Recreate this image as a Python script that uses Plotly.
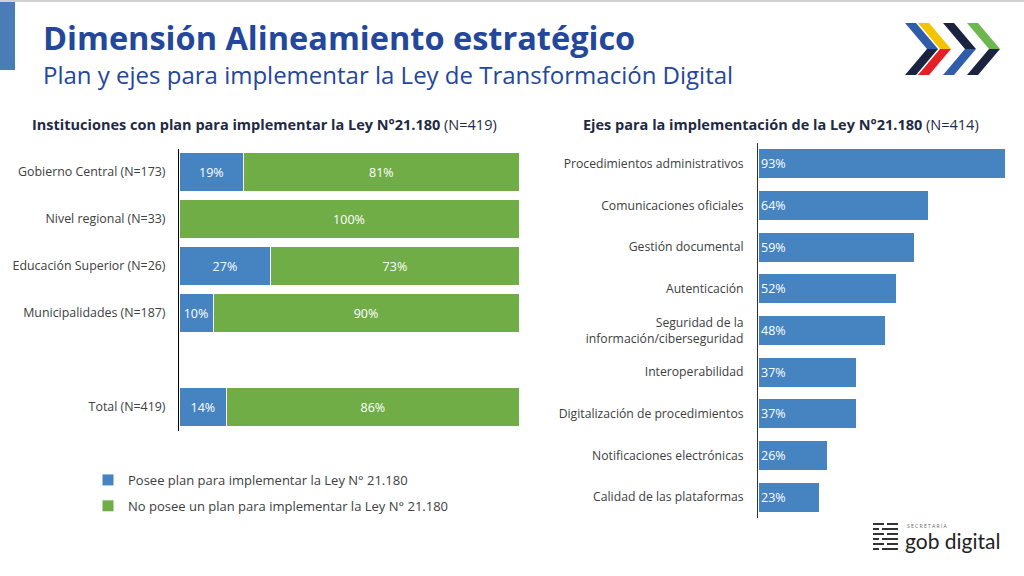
import plotly.graph_objects as go

# ---------------- data ----------------
inst_categories = ["Gobierno Central (N=173)", "Nivel regional (N=33)",
                   "Educación Superior (N=26)", "Municipalidades (N=187)",
                   " ", "Total (N=419)"]
posee_plan = [19, 0, 27, 10, None, 14]
no_posee_plan = [81, 100, 73, 90, None, 86]

ejes_categories = ["Procedimientos administrativos", "Comunicaciones oficiales",
                   "Gestión documental", "Autenticación",
                   "Seguridad de la<br>información/ciberseguridad",
                   "Interoperabilidad", "Digitalización de procedimientos",
                   "Notificaciones electrónicas", "Calidad de las plataformas"]
ejes_values = [93, 64, 59, 52, 48, 37, 37, 26, 23]

series_names = ["Posee plan para implementar la Ley N° 21.180",
                "No posee un plan para implementar la Ley N° 21.180"]

BLUE = "#4584C0"
GREEN = "#70AD47"
NAVY = "#1F2A44"
TITLE_BLUE = "#23479A"
GREY = "#404040"
FONT = "Open Sans"

W, H = 1024, 576


def px(x):
    return x / W


def py(y):
    return 1 - y / H


def lbl(vals):
    return [f"{v}%" if v else "" for v in vals]


fig = go.Figure()

fig.add_trace(go.Bar(
    y=inst_categories, x=posee_plan, orientation="h", name=series_names[0],
    marker=dict(color=BLUE, line=dict(color="white", width=1)),
    text=lbl(posee_plan), textposition="inside", insidetextanchor="middle",
    textfont=dict(color="white", size=12.5, family=FONT), textangle=0,
    xaxis="x", yaxis="y", legendgroup="a", hoverinfo="x+y"))
fig.add_trace(go.Bar(
    y=inst_categories, x=no_posee_plan, orientation="h", name=series_names[1],
    marker=dict(color=GREEN, line=dict(color="white", width=1)),
    text=lbl(no_posee_plan), textposition="inside", insidetextanchor="middle",
    textfont=dict(color="white", size=12.5, family=FONT), textangle=0,
    xaxis="x", yaxis="y", legendgroup="b", hoverinfo="x+y"))

fig.add_trace(go.Bar(
    y=ejes_categories, x=ejes_values, orientation="h", showlegend=False,
    marker=dict(color=BLUE, line=dict(color="white", width=1)),
    text=lbl(ejes_values), textposition="inside", insidetextanchor="start",
    textfont=dict(color="white", size=12.5, family=FONT), textangle=0,
    xaxis="x2", yaxis="y2", width=0.72, hoverinfo="x+y"))

fig.update_layout(
    width=W, height=H, margin=dict(l=0, r=0, t=0, b=0),
    paper_bgcolor="white", plot_bgcolor="white",
    barmode="stack", bargap=0.17,
    font=dict(family=FONT, color=GREY, size=12.4),
    xaxis=dict(domain=[px(179), px(519)], range=[0, 100], visible=False,
               fixedrange=True),
    yaxis=dict(domain=[py(430.5), py(148.5)], autorange="reversed",
               showline=True, linecolor="#000000", linewidth=1,
               ticks="", ticklabelstandoff=10, showgrid=False,
               tickfont=dict(size=12.4, color=GREY), anchor="x"),
    xaxis2=dict(domain=[px(758), 1.0], range=[0, 100], visible=False,
                anchor="y2", fixedrange=True),
    yaxis2=dict(domain=[py(518), py(143)], autorange="reversed",
                showline=True, linecolor="#333333", linewidth=1,
                ticks="", ticklabelstandoff=11, showgrid=False,
                tickfont=dict(size=12.2, color=GREY), anchor="x2"),
    legend=dict(x=px(88), y=py(465), xanchor="left", yanchor="top",
                font=dict(size=13, color=GREY), tracegroupgap=6,
                itemwidth=30, bgcolor="rgba(0,0,0,0)"),
    showlegend=True,
)

ann = []
ann.append(dict(text="<b>Dimensión Alineamiento estratégico</b>",
                x=px(41), y=py(38), xref="paper", yref="paper",
                xanchor="left", yanchor="middle", showarrow=False,
                font=dict(size=32.5, color=TITLE_BLUE, family=FONT)))
ann.append(dict(text="Plan y ejes para implementar la Ley de Transformación Digital",
                x=px(41), y=py(74), xref="paper", yref="paper",
                xanchor="left", yanchor="middle", showarrow=False,
                font=dict(size=24, color=TITLE_BLUE, family=FONT)))
ann.append(dict(text="<b>Instituciones con plan para implementar la Ley N°21.180</b> (N=419)",
                x=px(264), y=py(125), xref="paper", yref="paper",
                xanchor="center", yanchor="middle", showarrow=False,
                font=dict(size=14.5, color=NAVY, family=FONT)))
ann.append(dict(text="<b>Ejes para la implementación de la Ley N°21.180</b> (N=414)",
                x=px(781), y=py(125), xref="paper", yref="paper",
                xanchor="center", yanchor="middle", showarrow=False,
                font=dict(size=14.5, color=NAVY, family=FONT)))
# gob digital logo text
ann.append(dict(text="S E C R E T A R Í A", x=px(905), y=py(526), xref="paper",
                yref="paper", xanchor="left", yanchor="middle", showarrow=False,
                font=dict(size=5, color="#666666", family=FONT)))
ann.append(dict(text="gob digital", x=px(903), y=py(540), xref="paper",
                yref="paper", xanchor="left", yanchor="middle", showarrow=False,
                font=dict(size=21, color="#222222", family="Lato")))
fig.update_layout(annotations=ann)

shapes = []
# left blue accent bar and thin top line
shapes.append(dict(type="rect", xref="paper", yref="paper", x0=0, x1=px(15),
                   y0=py(70), y1=1, fillcolor="#4A7DB8", line=dict(width=0),
                   layer="below"))
shapes.append(dict(type="line", xref="paper", yref="paper", x0=0, x1=1,
                   y0=py(1), y1=py(1), line=dict(color="#D0D0D0", width=2)))


# chevrons logo
def chevron_half(x0, top, bottom, w, s, color, upper):
    mid = (top + bottom) / 2
    if upper:
        pts = [(x0, top), (x0 + w, top), (x0 + w + s, mid), (x0 + s, mid)]
    else:
        pts = [(x0 + s, mid), (x0 + w + s, mid), (x0 + w, bottom), (x0, bottom)]
    path = "M " + " L ".join(f"{px(a):.5f},{py(b):.5f}" for a, b in pts) + " Z"
    return dict(type="path", path=path, xref="paper", yref="paper",
                fillcolor=color, line=dict(width=0))


chev = [(905, "#2F5DAA", "#1B2340"), (918, "#F5C400", "#E31E24"),
        (943, "#1B2340", "#2F5DAA"), (967, "#6DB84C", "#1B2340")]
for x0, ctop, cbot in chev:
    shapes.append(chevron_half(x0, 23, 75, 11, 22, ctop, True))
    shapes.append(chevron_half(x0, 23, 75, 11, 22, cbot, False))

# gob digital icon (dashed stripes)
for i, yy in enumerate([524, 529, 534, 539, 544, 549]):
    segs = [(873, 884), (887, 898)] if i % 2 == 0 else [(873, 879), (882, 898)]
    for a, b in segs:
        shapes.append(dict(type="line", xref="paper", yref="paper",
                           x0=px(a), x1=px(b), y0=py(yy), y1=py(yy),
                           line=dict(color="#333333", width=2)))

fig.update_layout(shapes=shapes)

fig.write_html("out.html", config={"displayModeBar": False},
               post_script="document.body.style.margin='0';document.body.style.padding='0';")
